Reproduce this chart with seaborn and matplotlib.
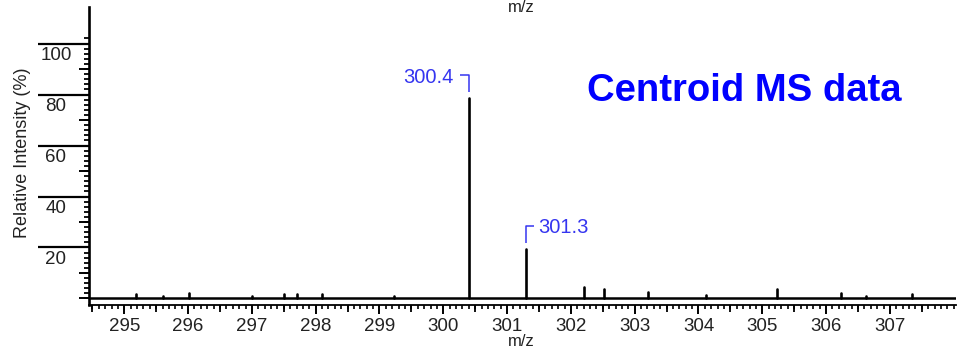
import numpy as np
import pandas as pd
import matplotlib
matplotlib.use("Agg")
import matplotlib.pyplot as plt
import matplotlib.transforms as mtransforms
from matplotlib import font_manager
from matplotlib.lines import Line2D
import seaborn as sns

# Centroided peak list (m/z, relative intensity %)
mz = [295.19, 295.60, 296.01, 297.00, 297.50, 297.71, 298.10, 299.22,
      300.40, 301.30, 302.21, 302.52, 303.21, 304.12, 305.23, 306.23,
      306.63, 307.35]
intensity = [1.7, 1.0, 2.1, 1.0, 1.7, 1.7, 1.7, 0.8,
             78.5, 19.6, 4.4, 3.6, 2.7, 1.3, 3.6, 2.1,
             1.1, 1.7]

# Peaks that carry an m/z annotation, and which side the label sits on
labelled_mz = [300.4, 301.3]
label_sides = ["left", "right"]

x_tick_values = list(range(295, 308))
y_tick_values = [20, 40, 60, 80, 100]

title_text = "Centroid MS data"
x_label = "m/z"
y_label = "Relative Intensity (%)"

sns.set_style("white")


def pick_family(candidates):
    for name in candidates:
        try:
            font_manager.findfont(name, fallback_to_default=False)
            return name
        except Exception:
            continue
    return "DejaVu Sans"


narrow = pick_family(["Liberation Sans Narrow", "Liberation Sans", "DejaVu Sans"])
sans = pick_family(["Liberation Sans", "Arial", "DejaVu Sans"])
plt.rcParams["font.family"] = [sans, "DejaVu Sans"]

W, H = 964, 350
fig = plt.figure(figsize=(W / 100, H / 100), dpi=100)
ax_left, ax_right, ax_top, ax_bottom = 89, 956, 7.3, 305
ax = fig.add_axes([ax_left / W, (H - ax_bottom) / H,
                   (ax_right - ax_left) / W, (ax_bottom - ax_top) / H])

# Stick spectrum: every peak is a vertical segment from 0 to its intensity
stems = pd.DataFrame({
    "mz": np.repeat(mz, 2),
    "intensity": np.ravel([[0.0, v] for v in intensity]),
    "peak": np.repeat(np.arange(len(mz)), 2),
})
sns.lineplot(data=stems, x="mz", y="intensity", units="peak",
             estimator=None, sort=False, color="black", lw=1.9,
             legend=False, ax=ax)
ax.axhline(0, color="black", lw=1.8, zorder=3)

ax.set_xlim(294.447, 308.036)
ax.set_ylim(-2.55, 114.2)
ax.set_xlabel("")
ax.set_ylabel("")

for side in ["top", "right"]:
    ax.spines[side].set_visible(False)
ax.spines["left"].set_linewidth(1.9)
ax.spines["bottom"].set_linewidth(1.3)
ax.spines["left"].set_color("black")
ax.spines["bottom"].set_color("black")

tick_color = "#222222"

# x ruler: integer, half and tenth ticks
ax.set_xticks(x_tick_values)
ax.set_xticks(np.round(np.arange(294.5, 308.01, 0.1), 1), minor=True)
ax.set_xticklabels([str(v) for v in x_tick_values], fontfamily=narrow)
ax.tick_params(axis="x", which="major", bottom=True, direction="out",
               length=6.8, width=1.4, pad=2.6, labelsize=13.5,
               labelcolor=tick_color, color="black")
ax.tick_params(axis="x", which="minor", bottom=True, direction="out",
               length=3.2, width=1.2, color="black")
sec_x = ax.secondary_xaxis("bottom")
sec_x.set_xticks([v + 0.5 for v in range(294, 308)])
sec_x.tick_params(bottom=True, direction="out", length=4.7, width=1.3,
                  labelbottom=False, color="black")
sec_x.spines["bottom"].set_visible(False)

# y ruler: long lines at every 20, medium at 10s, short at 2s
ax.set_yticks(y_tick_values)
ax.set_yticks(np.arange(0, 103, 2), minor=True)
ax.tick_params(axis="y", which="major", left=True, direction="out",
               length=36.7, width=1.6, labelleft=False, color="black")
ax.tick_params(axis="y", which="minor", left=True, direction="out",
               length=3.6, width=1.3, color="black")
sec_y = ax.secondary_yaxis("left")
sec_y.set_yticks([0, 10, 30, 50, 70, 90])
sec_y.tick_params(left=True, direction="out", length=7.0, width=1.4,
                  labelleft=False, color="black")
sec_y.spines["left"].set_visible(False)

label_tr = mtransforms.offset_copy(
    mtransforms.blended_transform_factory(fig.transFigure, ax.transData),
    fig=fig, y=-3.5, units="dots")
for v in y_tick_values:
    ax.text(56 / W, v, str(v), transform=label_tr, ha="center", va="top",
            fontsize=13.5, fontfamily=narrow, color=tick_color)

# Peak annotations with small brackets
blue = "#3535f0"
ident = mtransforms.IdentityTransform()
for m, side in zip(labelled_mz, label_sides):
    idx = int(np.argmin(np.abs(np.array(mz) - m)))
    px, py = ax.transData.transform((mz[idx], intensity[idx]))
    top = py + 23
    arm = -8.5 if side == "left" else 8.0
    ax.add_line(Line2D([px, px, px + arm], [py + 6, top, top],
                       transform=ident, color=blue, lw=1.1,
                       clip_on=False, solid_capstyle="butt"))
    if side == "left":
        ax.text(px - 15.7, top - 7.3, f"{m:.1f}", transform=ident,
                ha="right", va="baseline", color=blue, fontsize=14.5)
    else:
        ax.text(px + 12.4, top - 7.3, f"{m:.1f}", transform=ident,
                ha="left", va="baseline", color=blue, fontsize=14.5)

fig.text(744 / W, (H - 101) / H, title_text, ha="center", va="baseline",
         color="#0000ff", fontsize=27.5, fontweight="bold")

fig.text(521 / W, (H - 346) / H, x_label, ha="center", va="baseline",
         fontsize=12, color=tick_color)
fig.text(521 / W, (H - 12) / H, x_label, ha="center", va="baseline",
         fontsize=12, color=tick_color)
fig.text(23 / W, (H - 152.5) / H, y_label, ha="center", va="center",
         rotation=90, fontsize=13, color=tick_color)

fig.savefig("out.png", dpi=100)
